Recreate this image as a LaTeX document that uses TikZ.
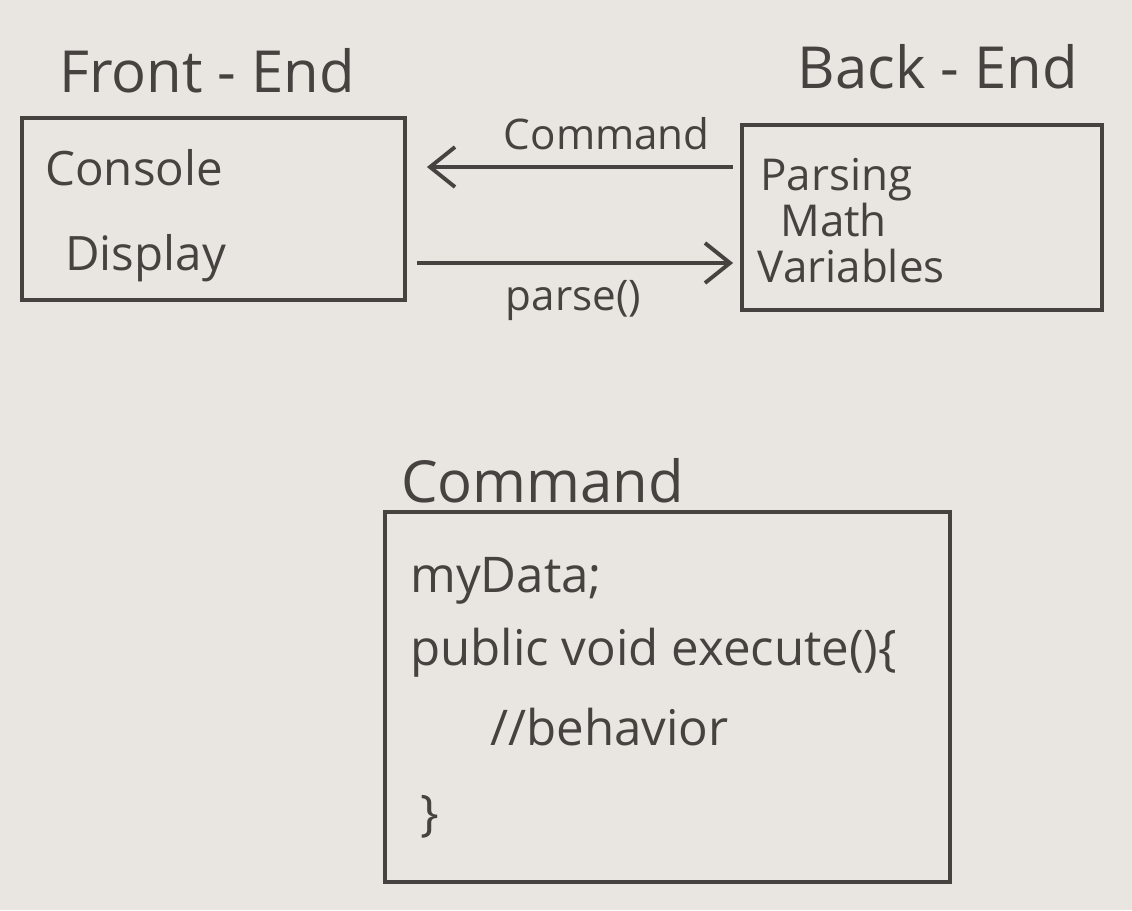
\documentclass[tikz,border=0pt]{standalone}
\usepackage{fontspec}
\setmainfont{Open Sans}
\usepackage{tikz}
\usetikzlibrary{arrows.meta}
\definecolor{paper}{HTML}{E9E6E1}
\definecolor{pencil}{HTML}{46423F}
\newcommand\headsize{\fontsize{33}{40}\selectfont}
\newcommand\itemsize{\fontsize{27}{32}\selectfont}
\newcommand\backsize{\fontsize{25}{30}\selectfont}
\newcommand\labelsize{\fontsize{24}{29}\selectfont}
\newcommand\codesize{\fontsize{28}{33}\selectfont}

\begin{document}
\begin{tikzpicture}[
  box/.style={draw=pencil, line width=2.2pt, inner sep=0pt},
  flow/.style={draw=pencil, line width=2.2pt, -{Straight Barb[length=5mm,width=8mm,line width=2.2pt]}},
  ink/.style={text=pencil, inner sep=0pt}]
\fill[paper] (0,0) rectangle (22.64,-18.2);
% front-end
\node[ink, font=\headsize, anchor=base] (fetitle) at (4.14,-1.84) {Front - End};
\node[box, minimum width=7.66cm, minimum height=3.64cm] (front) at (4.27,-4.18) {};
\node[ink, font=\itemsize, anchor=base west] (console) at (0.9,-3.7) {Console};
\node[ink, font=\itemsize, anchor=base west] (display) at (1.3,-5.4) {Display};
% back-end
\node[ink, font=\headsize, anchor=base] (betitle) at (18.76,-1.76) {Back - End};
\node[box, minimum width=7.2cm, minimum height=3.7cm] (back) at (18.44,-4.35) {};
\node[ink, font=\backsize, anchor=base west] (parsing) at (15.2,-3.8) {Parsing};
\node[ink, font=\backsize, anchor=base west] (math) at (15.6,-4.72) {Math};
\node[ink, font=\backsize, anchor=base west] (vars) at (15.15,-5.65) {Variables};
% arrows
\draw[flow, shorten <=0.14cm, shorten >=0.4cm] ([yshift=1.01cm]back.west) -- ([yshift=1.01cm]back.west -| front.east)
  node[ink, font=\labelsize, pos=0.4, above=0.3cm] (cmdlabel) {Command};
\draw[flow, shorten <=0.2cm, shorten >=0.14cm] ([yshift=-0.91cm]back.west -| front.east) -- ([yshift=-0.91cm]back.west)
  node[ink, font=\labelsize, midway, below=0.3cm] (parselabel) {parse()};
% command object
\node[ink, font=\headsize, anchor=base] (cmdtitle) at (10.85,-10.05) {Command};
\node[box, minimum width=11.3cm, minimum height=7.4cm] (cmdbox) at (13.35,-13.94) {};
\node[ink, font=\codesize, anchor=base west] (mydata) at (8.2,-11.84) {myData;};
\node[ink, font=\codesize, anchor=base west] (execute) at (8.2,-13.3) {public void execute()\{};
\node[ink, font=\codesize, anchor=base west] (behavior) at (9.8,-14.9) {//behavior};
\node[ink, font=\codesize, anchor=base west] (closing) at (8.4,-16.6) {\}};
\end{tikzpicture}
\end{document}
